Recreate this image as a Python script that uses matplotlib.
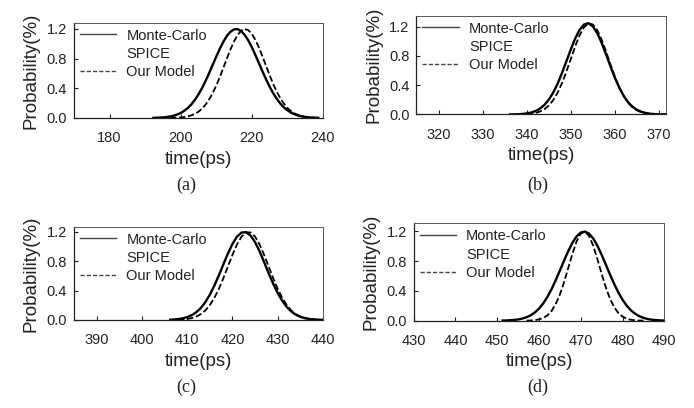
import matplotlib
matplotlib.use("Agg")
import matplotlib.pyplot as plt
from matplotlib.lines import Line2D

plt.rcParams['font.family'] = ['Liberation Sans', 'DejaVu Sans']

# (a)
a_mc_t = list(range(192, 240))
a_mc_p = [0.002, 0.003, 0.005, 0.008, 0.013, 0.020, 0.030, 0.047, 0.067, 0.097,
          0.134, 0.184, 0.245, 0.318, 0.403, 0.501, 0.606, 0.717, 0.827, 0.934,
          1.029, 1.108, 1.163, 1.195, 1.198, 1.172, 1.120, 1.046, 0.954, 0.849,
          0.739, 0.628, 0.521, 0.422, 0.334, 0.259, 0.195, 0.143, 0.104, 0.073,
          0.050, 0.033, 0.022, 0.014, 0.009, 0.005, 0.003, 0.002]
a_model_t = list(range(197, 239))
a_model_p = [0.001, 0.002, 0.004, 0.008, 0.013, 0.022, 0.036, 0.057, 0.085, 0.126,
             0.181, 0.251, 0.336, 0.437, 0.553, 0.677, 0.804, 0.926, 1.034, 1.120,
             1.177, 1.200, 1.184, 1.134, 1.054, 0.949, 0.828, 0.702, 0.577, 0.459,
             0.355, 0.267, 0.194, 0.136, 0.093, 0.062, 0.040, 0.025, 0.015, 0.009,
             0.005, 0.003]

# (b)
b_mc_t = list(range(336, 373))
b_mc_p = [0.001, 0.002, 0.003, 0.007, 0.014, 0.026, 0.047, 0.079, 0.130, 0.201,
          0.297, 0.418, 0.565, 0.725, 0.887, 1.037, 1.156, 1.228, 1.247, 1.204,
          1.113, 0.980, 0.823, 0.659, 0.503, 0.367, 0.256, 0.168, 0.107, 0.064,
          0.037, 0.021, 0.010, 0.005, 0.002, 0.001, 0.001]
b_model_t = list(range(338, 373))
b_model_p = [0.001, 0.002, 0.005, 0.010, 0.021, 0.040, 0.071, 0.121, 0.194, 0.296,
             0.426, 0.584, 0.757, 0.929, 1.081, 1.192, 1.245, 1.230, 1.154, 1.024,
             0.861, 0.686, 0.519, 0.371, 0.252, 0.161, 0.099, 0.057, 0.031, 0.016,
             0.008, 0.004, 0.002, 0.001, 0.000]

# (c)
c_mc_t = list(range(406, 441))
c_mc_p = [0.003, 0.006, 0.012, 0.022, 0.039, 0.065, 0.105, 0.162, 0.242, 0.343,
          0.467, 0.607, 0.758, 0.905, 1.035, 1.134, 1.190, 1.196, 1.149, 1.059,
          0.934, 0.788, 0.637, 0.494, 0.366, 0.261, 0.177, 0.115, 0.072, 0.043,
          0.025, 0.013, 0.007, 0.004, 0.002]
c_model_t = list(range(408, 441))
c_model_p = [0.003, 0.007, 0.013, 0.026, 0.046, 0.079, 0.129, 0.202, 0.301, 0.423,
             0.569, 0.728, 0.886, 1.028, 1.134, 1.192, 1.192, 1.134, 1.028, 0.886,
             0.728, 0.569, 0.423, 0.301, 0.202, 0.129, 0.079, 0.046, 0.026, 0.013,
             0.007, 0.003, 0.001]

# (d)
d_mc_t = list(range(451, 491))
d_mc_p = [0.001, 0.003, 0.005, 0.010, 0.017, 0.028, 0.046, 0.072, 0.111, 0.162,
          0.232, 0.319, 0.423, 0.544, 0.674, 0.808, 0.936, 1.048, 1.134, 1.185,
          1.199, 1.170, 1.105, 1.007, 0.886, 0.755, 0.621, 0.494, 0.379, 0.282,
          0.202, 0.140, 0.094, 0.061, 0.038, 0.023, 0.013, 0.008, 0.004, 0.002]
d_model_t = list(range(457, 486))
d_model_p = [0.001, 0.003, 0.008, 0.017, 0.036, 0.071, 0.130, 0.223, 0.352, 0.518,
             0.708, 0.900, 1.066, 1.171, 1.198, 1.138, 1.006, 0.825, 0.630, 0.447,
             0.296, 0.181, 0.103, 0.055, 0.027, 0.012, 0.005, 0.002, 0.001]

panels = [
    ("(a)", a_mc_t, a_mc_p, a_model_t, a_model_p, (170, 240), [180, 200, 220, 240], 1.285),
    ("(b)", b_mc_t, b_mc_p, b_model_t, b_model_p, (315, 371.6), [320, 330, 340, 350, 360, 370], 1.35),
    ("(c)", c_mc_t, c_mc_p, c_model_t, c_model_p, (385, 440), [390, 400, 410, 420, 430, 440], 1.27),
    ("(d)", d_mc_t, d_mc_p, d_model_t, d_model_p, (430, 490), [430, 440, 450, 460, 470, 480, 490], 1.31),
]
yticks = [0.0, 0.4, 0.8, 1.2]

# axes boxes in figure fractions
boxes = [
    [0.1066, 0.7108, 0.3588, 0.2336],
    [0.6001, 0.7194, 0.3595, 0.2422],
    [0.1066, 0.2157, 0.3588, 0.2287],
    [0.5961, 0.2140, 0.3611, 0.2387],
]
captions = [(0.268, 0.545), (0.775, 0.545), (0.268, 0.050), (0.775, 0.050)]

fig = plt.figure(figsize=(6.94, 4.08), dpi=100)

for (cap, t1, p1, t2, p2, xl, xt, ytop), box, cpos in zip(panels, boxes, captions):
    ax = fig.add_axes(box)
    ax.plot(t1, p1, color="black", lw=1.7, solid_capstyle="butt")
    ax.plot(t2, p2, color="black", lw=1.3, linestyle=(0, (3.5, 1.5)))
    ax.set_xlim(*xl)
    ax.set_ylim(0, ytop)
    ax.set_xticks(xt)
    ax.set_yticks(yticks)
    ax.set_yticklabels(["%.1f" % v for v in yticks])
    ax.tick_params(direction="in", length=3, width=0.8, labelsize=10.5, colors="#222222")
    ax.tick_params(axis="x", pad=9.5)
    ax.tick_params(axis="y", pad=5)
    for s in ["left", "bottom"]:
        ax.spines[s].set_color("#222222")
        ax.spines[s].set_linewidth(0.9)
    for s in ["top", "right"]:
        ax.spines[s].set_color("#555555")
        ax.spines[s].set_linewidth(0.7)
    ax.set_xlabel("time(ps)", fontsize=13.5, labelpad=4, color="#222222")
    ax.set_ylabel("Probability(%)", fontsize=13.5, labelpad=5, color="#222222")

    handles = [Line2D([], [], color="#444444", lw=1.0),
               Line2D([], [], color="none"),
               Line2D([], [], color="#444444", lw=1.0, linestyle=(0, (3, 1.5)))]
    ax.legend(handles, ["Monte-Carlo", "SPICE", "Our Model"], loc="upper left",
              frameon=False, fontsize=10.5, handlelength=2.5, handletextpad=0.7,
              labelspacing=0.3, borderpad=0.2, borderaxespad=0.2,
              labelcolor="#222222")

    fig.text(cpos[0], cpos[1], cap, ha="center", va="center", fontsize=13,
             family="Liberation Serif", color="#222222")

fig.savefig("out.png", dpi=100)
